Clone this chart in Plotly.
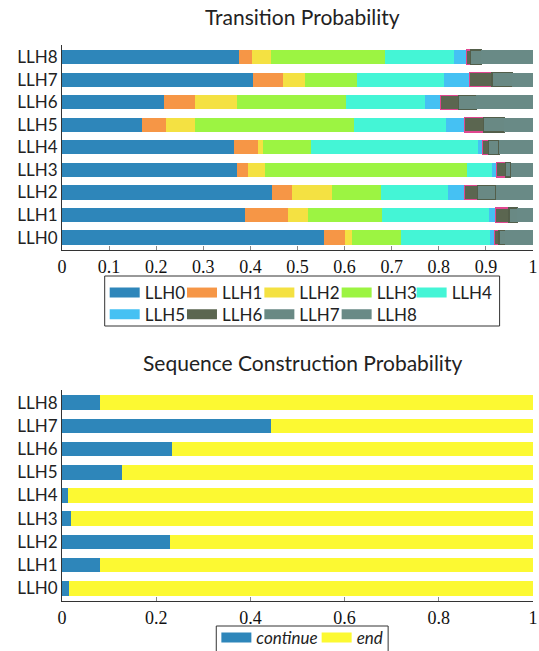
import plotly.graph_objects as go

categories = ["LLH0", "LLH1", "LLH2", "LLH3", "LLH4", "LLH5", "LLH6", "LLH7", "LLH8"]
series_names = ["LLH0", "LLH1", "LLH2", "LLH3", "LLH4", "LLH5", "LLH6", "LLH7", "LLH8"]

# transition probabilities: one list per source row (LLH0..LLH8), entries = target LLH0..LLH8
row_LLH0 = [0.556, 0.044, 0.015, 0.104, 0.189, 0.011, 0.009, 0.013, 0.059]
row_LLH1 = [0.389, 0.090, 0.043, 0.157, 0.227, 0.014, 0.029, 0.018, 0.033]
row_LLH2 = [0.445, 0.043, 0.085, 0.104, 0.142, 0.036, 0.027, 0.039, 0.079]
row_LLH3 = [0.371, 0.024, 0.035, 0.430, 0.054, 0.009, 0.018, 0.012, 0.047]
row_LLH4 = [0.365, 0.052, 0.009, 0.103, 0.354, 0.009, 0.014, 0.022, 0.072]
row_LLH5 = [0.169, 0.051, 0.063, 0.338, 0.195, 0.038, 0.041, 0.044, 0.061]
row_LLH6 = [0.216, 0.066, 0.090, 0.232, 0.166, 0.033, 0.039, 0.038, 0.120]
row_LLH7 = [0.406, 0.063, 0.047, 0.111, 0.183, 0.056, 0.047, 0.043, 0.044]
row_LLH8 = [0.375, 0.028, 0.040, 0.242, 0.147, 0.026, 0.010, 0.022, 0.110]
rows = [row_LLH0, row_LLH1, row_LLH2, row_LLH3, row_LLH4, row_LLH5, row_LLH6, row_LLH7, row_LLH8]

seq_names = ["continue", "end"]
continue_prob = [0.015, 0.080, 0.230, 0.020, 0.013, 0.127, 0.233, 0.443, 0.081]
end_prob = [1 - v for v in continue_prob]

top_ticks = [0, 0.1, 0.2, 0.3, 0.4, 0.5, 0.6, 0.7, 0.8, 0.9, 1]
bottom_ticks = [0, 0.2, 0.4, 0.6, 0.8, 1]

fill_colors = ["#2E86BA", "#F69646", "#F4E142", "#9CF442", "#44F5D6",
               "#45C1F3", "#5B6650", "#698984", "#698A86"]
line_colors = ["#2E86BA", "#F69646", "#F4E142", "#9CF442", "#44F5D6",
               "#45C1F3", "#E0468F", "#535E4A", "#698A86"]
line_widths = [0, 0, 0, 0, 0, 0, 1.2, 1.2, 0]
seq_colors = ["#2E86BA", "#FCF932"]

LABEL_FONT = "Lato"
NUM_FONT = "Liberation Serif"

# the page body margin is removed (post_script), so figure pixels = window pixels
W, H = 539, 651
X_LEFT, X_RIGHT = 62.3, 533.4  # window pixels of the plot area


def py(px):
    return 1 - px / H


def pxp(px):
    return (px - X_LEFT) / (X_RIGHT - X_LEFT)


# legend entry placement (window pixels of swatch left edge, row centre)
top_swatch_x = [110, 187.3, 264.7, 342, 417, 110, 187.3, 264.7, 342]
top_row_y = [291, 291, 291, 291, 291, 312.7, 312.7, 312.7, 312.7]
seq_swatch_x = [221.7, 322]
seq_row_y = 636


def legend_id(i):
    return "legend" if i == 0 else "legend%d" % (i + 1)


legend_common = dict(orientation="h", xanchor="left", yanchor="top", borderwidth=0,
                     bgcolor="rgba(0,0,0,0)", font=dict(family=LABEL_FONT, size=17),
                     traceorder="normal", tracegroupgap=0)
legends = {}

fig = go.Figure()

for j, name in enumerate(series_names):
    fig.add_trace(go.Bar(
        y=categories,
        x=[r[j] for r in rows],
        name=name,
        orientation="h",
        marker=dict(color=fill_colors[j],
                    line=dict(color=line_colors[j], width=line_widths[j])),
        xaxis="x", yaxis="y",
        legendgroup=name, showlegend=False,
    ))
    lid = legend_id(j)
    fig.add_trace(go.Scatter(
        x=[None], y=[None], mode="lines", name=name,
        line=dict(color=fill_colors[j], width=10),
        xaxis="x", yaxis="y", legend=lid, legendgroup=name,
    ))
    legends[lid] = dict(x=pxp(top_swatch_x[j] - 5), y=py(top_row_y[j] - 16), **legend_common)

seq_values = [continue_prob, end_prob]
for k, name in enumerate(seq_names):
    fig.add_trace(go.Bar(y=categories, x=seq_values[k], name=name, orientation="h",
                         marker=dict(color=seq_colors[k], line=dict(width=0)),
                         xaxis="x2", yaxis="y2", legendgroup=name, showlegend=False))
    lid = legend_id(len(series_names) + k)
    fig.add_trace(go.Scatter(x=[None], y=[None], mode="lines", name="<i>" + name + "</i>",
                             line=dict(color=seq_colors[k], width=10),
                             xaxis="x2", yaxis="y2", legend=lid, legendgroup=name))
    legends[lid] = dict(x=pxp(seq_swatch_x[k] - 5), y=py(seq_row_y - 16), **legend_common)

axis_common = dict(showgrid=False, zeroline=False, showline=True, linecolor="#333333",
                   linewidth=1)

fig.update_layout(
    width=W, height=H,
    margin=dict(l=X_LEFT, r=W - X_RIGHT, t=0, b=0, autoexpand=False),
    plot_bgcolor="white", paper_bgcolor="white",
    barmode="stack", bargap=0.37,
    font=dict(family=LABEL_FONT, size=17, color="#222222"),
    xaxis=dict(domain=[0, 1], anchor="y", range=[0, 1], tickvals=top_ticks,
               ticks="inside", ticklen=4, tickcolor="#888888", ticklabeloverflow="allow",
               tickfont=dict(family=NUM_FONT, size=18, color="#111111"), **axis_common),
    yaxis=dict(domain=[py(250), py(44.7)], anchor="x", range=[-0.55, 8.55],
               type="category", ticks="", tickfont=dict(family=LABEL_FONT, size=17), **axis_common),
    xaxis2=dict(domain=[0, 1], anchor="y2", range=[0, 1], tickvals=bottom_ticks,
                ticks="inside", ticklen=4, tickcolor="#888888", ticklabeloverflow="allow",
                tickfont=dict(family=NUM_FONT, size=18, color="#111111"), **axis_common),
    yaxis2=dict(domain=[py(601), py(390)], anchor="x2", range=[-0.55, 8.55],
                type="category", ticks="", tickfont=dict(family=LABEL_FONT, size=17), **axis_common),
    shapes=[
        dict(type="rect", xref="paper", yref="paper", x0=pxp(105), x1=pxp(500),
             y0=py(326), y1=py(276), line=dict(color="#333333", width=1)),
        dict(type="rect", xref="paper", yref="paper", x0=pxp(216.6), x1=pxp(388.5),
             y0=py(660), y1=py(626), line=dict(color="#333333", width=1)),
    ],
    annotations=[
        dict(text="Transition Probability", x=pxp(302.7), y=py(17),
             xref="paper", yref="paper", xanchor="center", yanchor="middle", showarrow=False,
             font=dict(family=LABEL_FONT, size=21)),
        dict(text="Sequence Construction Probability", x=pxp(302.7), y=py(362),
             xref="paper", yref="paper", xanchor="center", yanchor="middle", showarrow=False,
             font=dict(family=LABEL_FONT, size=21)),
    ],
    showlegend=True,
    **legends,
)

fig.write_html("out.html", config={"displayModeBar": False},
               post_script="document.body.style.margin = '0px';")
